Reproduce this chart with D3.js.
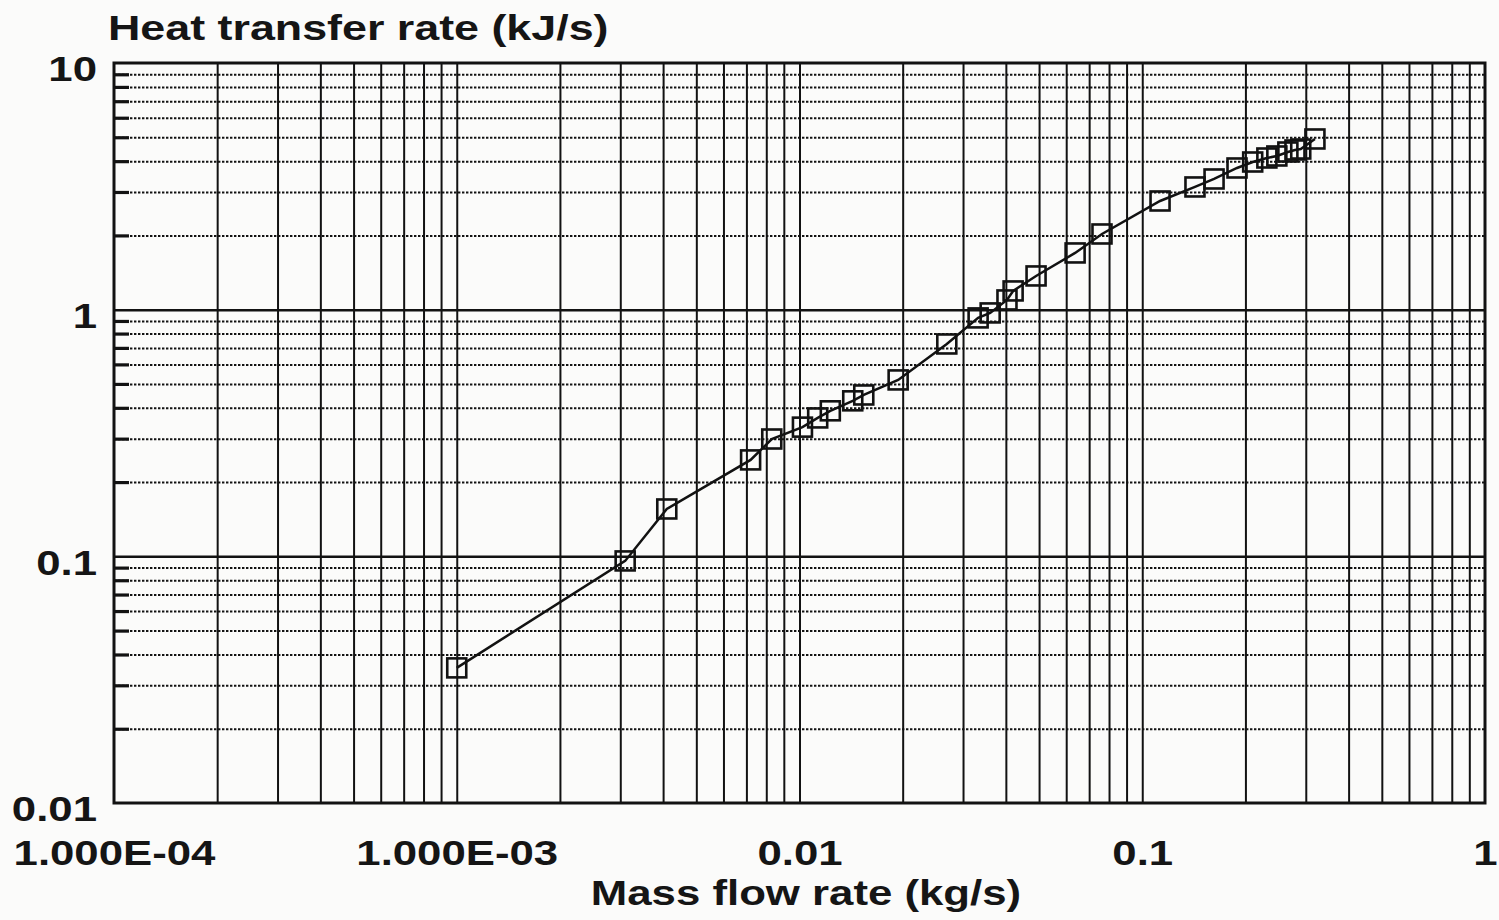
<!DOCTYPE html>
<html>
<head>
<meta charset="utf-8">
<script src="https://cdn.jsdelivr.net/npm/d3@7"></script>
<style>
  html, body { margin: 0; padding: 0; background: #fbfbfa; }
  svg { display: block; }
  text { font-family: "Liberation Sans", Arial, Helvetica, sans-serif; font-weight: bold; fill: #151515; }
</style>
</head>
<body>
<svg id="chart" width="1499" height="920"></svg>
<script>
// ---- data ----
const massFlow = [0.001, 0.0031, 0.0041, 0.0072, 0.0083, 0.0102, 0.0113, 0.0123, 0.0143, 0.0154,
                  0.0194, 0.0269, 0.0332, 0.036, 0.0403, 0.042, 0.049, 0.0637, 0.0763, 0.1127,
                  0.1425, 0.162, 0.189, 0.210, 0.231, 0.247, 0.266, 0.279, 0.290, 0.319];
const heatRate = [0.0353, 0.0958, 0.1556, 0.246, 0.299, 0.334, 0.364, 0.389, 0.427, 0.451,
                  0.519, 0.726, 0.926, 0.970, 1.095, 1.191, 1.370, 1.698, 2.027, 2.758,
                  3.144, 3.387, 3.753, 3.969, 4.12, 4.198, 4.357, 4.44, 4.48, 4.92];
const xTickValues = [1e-4, 1e-3, 1e-2, 1e-1, 1];
const xTickLabels = ["1.000E-04", "1.000E-03", "0.01", "0.1", "1"];
const yTickValues = [0.01, 0.1, 1, 10];
const yTickLabels = ["0.01", "0.1", "1", "10"];
const xTitle = "Mass flow rate (kg/s)";
const yTitle = "Heat transfer rate (kJ/s)";

// ---- layout ----
const L = 114, R = 1485, T = 63, B = 803;
const W = R - L, H = B - T;
const svg = d3.select("#chart");
const x = d3.scaleLog().domain([1e-4, 1]).range([L, R]);
const y = d3.scaleLog().domain([0.01, 10]).range([B, T]);
const ink = "#121212";

const xMinor = x.ticks().filter(v => v > 1e-4 * 1.001 && v < 0.999);
const yAll = y.ticks();
const isDecade = v => Math.abs(Math.log10(v) - Math.round(Math.log10(v))) < 1e-6;
const yMinor = yAll.filter(v => !isDecade(v));
const yMajorInner = yAll.filter(v => isDecade(v) && v > 0.0101 && v < 9.99);

function clean(g) { g.select(".domain").remove(); }

// vertical grid (solid)
svg.append("g").attr("transform", `translate(0,${B})`)
  .call(d3.axisBottom(x).tickValues(xMinor).tickSize(-H).tickFormat(""))
  .call(clean)
  .selectAll("line").attr("stroke", ink).attr("stroke-width", 2);

// horizontal minor grid (dotted)
svg.append("g").attr("transform", `translate(${L},0)`)
  .call(d3.axisLeft(y).tickValues(yMinor).tickSize(-W).tickFormat(""))
  .call(clean)
  .selectAll("line").attr("stroke", ink).attr("stroke-width", 2).attr("stroke-dasharray", "2.4,1.6");

// left short ticks on minor lines
svg.append("g").attr("transform", `translate(${L},0)`)
  .call(d3.axisLeft(y).tickValues(yMinor).tickSize(-15).tickFormat(""))
  .call(clean)
  .selectAll("line").attr("stroke", ink).attr("stroke-width", 3.2);

// horizontal major grid (solid)
svg.append("g").attr("transform", `translate(${L},0)`)
  .call(d3.axisLeft(y).tickValues(yMajorInner).tickSize(-W).tickFormat(""))
  .call(clean)
  .selectAll("line").attr("stroke", ink).attr("stroke-width", 2.5);

// frame
svg.append("rect").attr("x", L).attr("y", T).attr("width", W).attr("height", H)
  .attr("fill", "none").attr("stroke", ink).attr("stroke-width", 3);

// tick labels
const fs = 35;
const gx = svg.append("g").attr("transform", `translate(0,${B})`)
  .call(d3.axisBottom(x).tickValues(xTickValues).tickSize(0).tickPadding(37)
        .tickFormat((d, i) => xTickLabels[i]))
  .call(clean);
gx.selectAll("text").attr("font-size", fs).attr("fill", ink);

const gy = svg.append("g").attr("transform", `translate(${L},0)`)
  .call(d3.axisLeft(y).tickValues(yTickValues).tickSize(0).tickPadding(17)
        .tickFormat((d, i) => yTickLabels[i]))
  .call(clean);
gy.selectAll("text").attr("font-size", fs).attr("fill", ink).attr("dy", "0.51em");

// titles
svg.append("text").attr("x", 108).attr("y", 40)
  .attr("font-size", fs).attr("data-stretch", 1.28).text(yTitle);
svg.append("text").attr("x", 806).attr("y", 905)
  .attr("text-anchor", "middle").attr("font-size", fs).text(xTitle);

// data line + square markers
const pts = massFlow.map((m, i) => [m, heatRate[i]]);
svg.append("path").datum(pts)
  .attr("fill", "none").attr("stroke", ink).attr("stroke-width", 2.5)
  .attr("d", d3.line().x(d => x(d[0])).y(d => y(d[1])));

const s = 19;
svg.append("g").selectAll("rect").data(pts).join("rect")
  .attr("x", d => x(d[0]) - s / 2).attr("y", d => y(d[1]) - s / 2)
  .attr("width", s).attr("height", s)
  .attr("fill", "none").attr("stroke", ink).attr("stroke-width", 2.6);

// horizontal stretch of lettering, as in the reference
svg.selectAll("text").each(function () {
  const w = this.getComputedTextLength();
  const k = +(this.getAttribute("data-stretch") || 1.25);
  if (w > 0) {
    d3.select(this).attr("textLength", w * k).attr("lengthAdjust", "spacingAndGlyphs");
  }
});
</script>
</body>
</html>
